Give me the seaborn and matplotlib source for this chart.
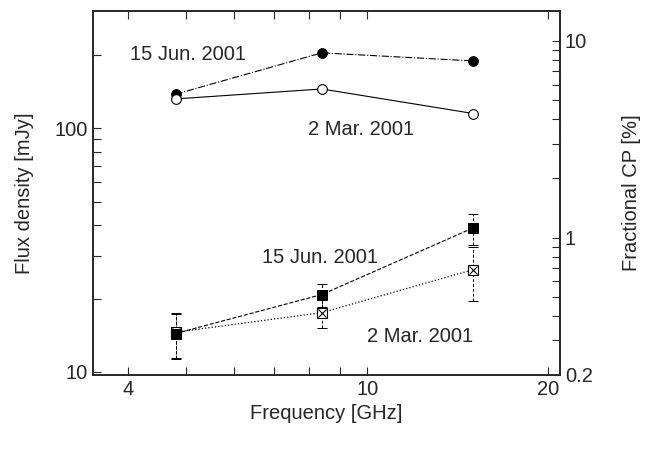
import numpy as np
import seaborn as sns
import matplotlib.pyplot as plt
from matplotlib.ticker import NullFormatter

# frequencies [GHz]
freq = [4.8, 8.4, 15.0]

# flux density [mJy]
flux_jun = [138, 204, 189]
flux_mar = [132, 145, 115]

# fractional circular polarisation [%]
cp_jun = [0.325, 0.513, 1.12]
cp_jun_err = [0.085, 0.07, 0.2]
cp_mar = [0.33, 0.415, 0.687]
cp_mar_err = [0.085, 0.067, 0.21]

sns.set_style("ticks")
plt.rcParams["font.family"] = ["Liberation Sans", "DejaVu Sans"]
plt.rcParams["font.size"] = 14.5

fig = plt.figure(figsize=(6.47, 4.5), dpi=100)
ax = fig.add_axes([0.1437, 0.1667, 0.7218, 0.8089])
ax2 = ax.twinx()

# flux density lines
sns.lineplot(x=freq, y=flux_jun, ax=ax, color="k", linestyle="-.", linewidth=0.8,
             marker="o", markersize=7, markerfacecolor="k", markeredgecolor="k")
sns.lineplot(x=freq, y=flux_mar, ax=ax, color="k", linestyle="-", linewidth=0.8,
             marker="o", markersize=7, markerfacecolor="white", markeredgecolor="k",
             markeredgewidth=0.8)

# CP with error bars
for vals, errs in [(cp_mar, cp_mar_err), (cp_jun, cp_jun_err)]:
    eb = ax2.errorbar(freq, vals, yerr=errs, fmt="none", ecolor="k",
                      elinewidth=0.7, capsize=3.5, capthick=0.7)
    eb[2][0].set_linestyle((0, (3, 2)))
sns.lineplot(x=freq, y=cp_mar, ax=ax2, color="k", linestyle=":", linewidth=0.9,
             marker="s", markersize=7, markerfacecolor="white", markeredgecolor="k",
             markeredgewidth=0.8)
ax2.plot(freq, cp_mar, linestyle="none", marker="x", markersize=6,
         markeredgecolor="k", markeredgewidth=0.8)
sns.lineplot(x=freq, y=cp_jun, ax=ax2, color="k", linestyle="--", linewidth=0.8,
             marker="s", markersize=7, markerfacecolor="k", markeredgecolor="k")

ax.set_xscale("log")
ax.set_yscale("log")
ax2.set_yscale("log")
ax.set_xlim(3.5, 20.9)
ax.set_ylim(9.72, 303)
ax2.set_ylim(0.2, 14.2)

ax.set_xticks([4, 10, 20], labels=["4", "10", "20"])
ax.set_xticks([5, 6, 7, 8, 9], minor=True)
ax.xaxis.set_minor_formatter(NullFormatter())
ax.set_yticks([10, 100], labels=["10", "100"])
ax.set_yticks([20, 30, 40, 50, 60, 70, 80, 90, 200], minor=True)
ax.yaxis.set_minor_formatter(NullFormatter())
ax2.set_yticks([0.2, 1, 10], labels=["0.2", "1", "10"])
ax2.set_yticks([0.3, 0.4, 0.5, 0.6, 0.7, 0.8, 0.9, 2, 3, 4, 5, 6, 7, 8, 9], minor=True)
ax2.yaxis.set_minor_formatter(NullFormatter())

for a in (ax, ax2):
    a.tick_params(which="both", direction="in", length=6, width=0.8)
    for s in a.spines.values():
        s.set_linewidth(1.2)
ax.tick_params(which="both", top=True, right=False)
ax2.tick_params(which="both", left=False, right=True)

ax.set_xlabel("Frequency [GHz]")
ax.set_ylabel("Flux density [mJy]", labelpad=15)
ax2.set_ylabel("Fractional CP [%]", labelpad=21)

ax.text(4.03, 200, "15 Jun. 2001", va="center", ha="left")
ax.text(7.98, 99, "2 Mar. 2001", va="center", ha="left")
ax2.text(6.68, 0.79, "15 Jun. 2001", va="center", ha="left")
ax2.text(9.98, 0.314, "2 Mar. 2001", va="center", ha="left")

plt.savefig("out.png", dpi=100)
